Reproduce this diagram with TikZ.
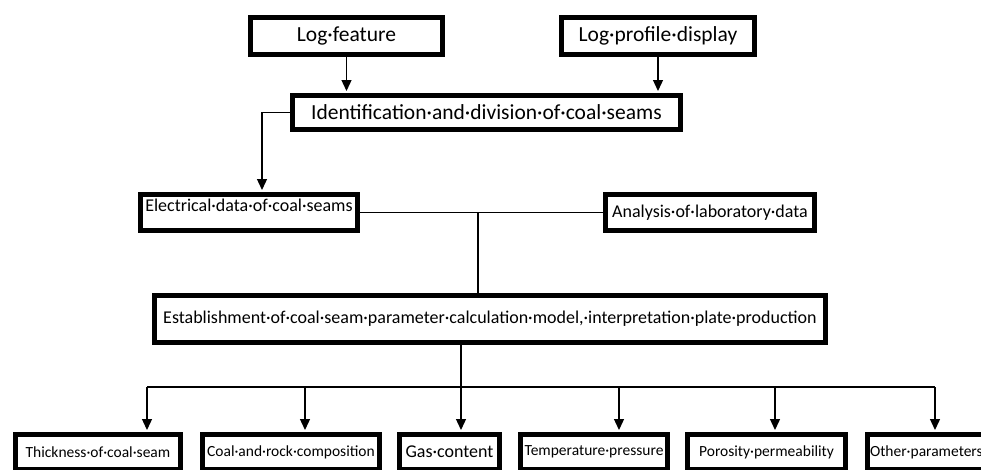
\documentclass[tikz,border=0pt]{standalone}
\usepackage{fontspec}
\setmainfont{Carlito}
\usetikzlibrary{arrows.meta}
\begin{document}
\begin{tikzpicture}[x=1pt,y=-1pt,
  bx/.style={draw=black, line width=5pt, inner sep=0pt, fill=white},
  big/.style={font=\fontsize{21.5}{25}\selectfont},
  mid/.style={font=\fontsize{18}{21}\selectfont},
  small/.style={font=\fontsize{15.5}{18}\selectfont},
  conn/.style={line width=1.3pt},
  arr/.style={conn, -{Triangle[width=10pt,length=11pt]}, shorten >=2pt}]
\clip (0,0) rectangle (981,469);
\fill[white] (0,0) rectangle (981,469);
% top boxes
\node[bx,big,minimum width=192pt,minimum height=37pt] (logf) at (346.5,36) {Log·feature};
\node[bx,big,minimum width=193pt,minimum height=37pt] (logp) at (658,36) {Log·profile·display};
\node[bx,big,minimum width=388pt,minimum height=34pt] (ident) at (486.5,112.5) {Identification·and·division·of·coal·seams};
% middle
\node[bx,minimum width=217pt,minimum height=36pt] (elec) at (249,212.5) {};
\node[mid] (electext) at (249,205) {Electrical·data·of·coal·seams};
\node[bx,mid,minimum width=209pt,minimum height=36pt] (anal) at (710,212.5) {Analysis·of·laboratory·data};
\node[bx,mid,minimum width=671pt,minimum height=47pt] (est) at (490,319) {Establishment·of·coal·seam·parameter·calculation·model,·interpretation·plate·production};
% bottom boxes
\node[bx,small,minimum width=165pt,minimum height=35pt] (thick) at (98,452) {Thickness·of·coal·seam};
\node[bx,small,minimum width=177pt,minimum height=35pt] (rock) at (291,452) {Coal·and·rock·composition};
\node[bx,font=\fontsize{18}{21}\selectfont,minimum width=100pt,minimum height=35pt] (gas) at (449.5,452) {Gas·content};
\node[bx,small,minimum width=147pt,minimum height=35pt] (temp) at (594,452) {Temperature·pressure};
\node[bx,small,minimum width=158pt,minimum height=35pt] (poro) at (766.5,452) {Porosity·permeability};
\node[bx,small,minimum width=130pt,minimum height=35pt,text width=125pt,align=left] (other) at (932.5,452) {Other·parameters};
% connectors
\draw[arr] (logf.south) -- (logf.south |- ident.north);
\draw[arr] (logp.south) -- (logp.south |- ident.north);
\coordinate (k1) at (262,113);
\draw[arr] (ident.west) -| (k1 |- elec.north);
\draw[conn] (elec.east) -- (anal.west);
\coordinate (j1) at (478,212.5);
\draw[conn] (j1) -- (j1 |- est.north);
\coordinate (j2) at (461,387);
\coordinate (hl) at (147,387);
\coordinate (h2) at (305,387);
\coordinate (h4) at (619,387);
\coordinate (h5) at (775,387);
\coordinate (hr) at (935,387);
\draw[arr] (est.south -| j2) -- (j2 |- gas.north);
\draw[conn] (hl) -- (hr);
\draw[arr] (hl) -- (hl |- thick.north);
\draw[arr] (h2) -- (h2 |- rock.north);
\draw[arr] (h4) -- (h4 |- temp.north);
\draw[arr] (h5) -- (h5 |- poro.north);
\draw[arr] (hr) -- (hr |- other.north);
\end{tikzpicture}
\end{document}
